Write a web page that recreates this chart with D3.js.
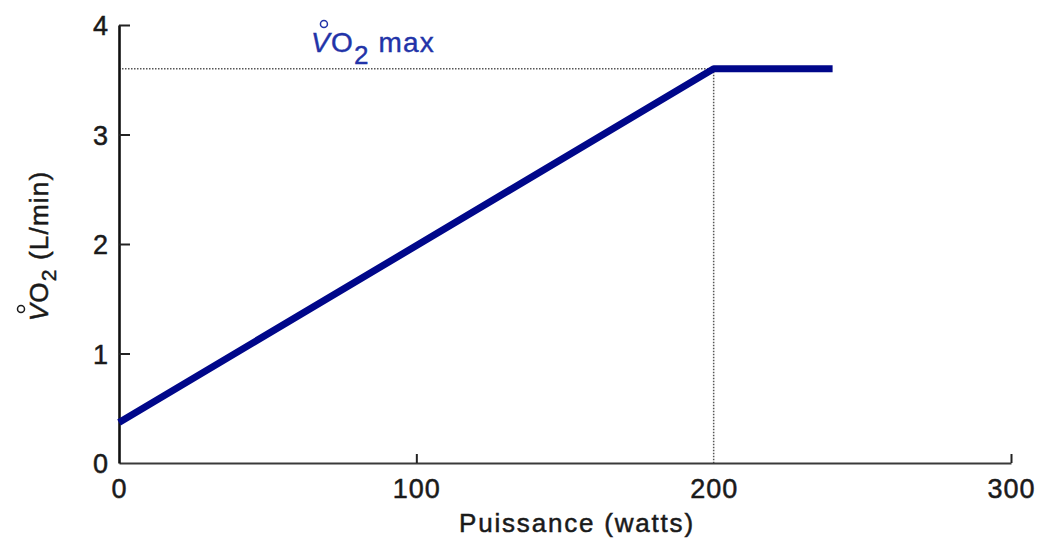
<!DOCTYPE html>
<html>
<head>
<meta charset="utf-8">
<script src="https://cdn.jsdelivr.net/npm/d3@7"></script>
<style>
  body { margin: 0; background: #fff; }
  text { font-family: "Liberation Sans", Arial, sans-serif; }
</style>
</head>
<body>
<script>
// data
const puissance = [0, 200, 240];
const vo2 = [0.37, 3.6, 3.6];
const vo2max = 3.6;
const puissanceMax = 200;
const xTicks = [0, 100, 200, 300];
const yTicks = [0, 1, 2, 3, 4];

const width = 1048, height = 540;
const svg = d3.select('body').append('svg')
    .attr('width', width)
    .attr('height', height);

const x = d3.scaleLinear().domain([0, 300]).range([119, 1011]);
const y = d3.scaleLinear().domain([0, 4]).range([463, 25]);

const textColor = '#1a1a1a';
const blue = '#2233a8';

// dotted guides
svg.append('line')
    .attr('x1', x(0)).attr('x2', x(puissanceMax))
    .attr('y1', y(vo2max)).attr('y2', y(vo2max))
    .style('stroke', '#555').style('stroke-width', 1.5)
    .style('stroke-dasharray', '1.5,1.5');
svg.append('line')
    .attr('x1', x(puissanceMax)).attr('x2', x(puissanceMax))
    .attr('y1', y(vo2max)).attr('y2', y(0))
    .style('stroke', '#555').style('stroke-width', 1.5)
    .style('stroke-dasharray', '1.5,1.5');

// axes
const xAxis = d3.axisBottom(x).tickValues(xTicks).tickFormat(d3.format('d'))
    .tickSizeInner(-9).tickSizeOuter(0);
const yAxis = d3.axisLeft(y).tickValues(yTicks).tickFormat(d3.format('d'))
    .tickSizeInner(-11).tickSizeOuter(0);

const gx = svg.append('g').attr('transform', `translate(0,${y(0)})`).call(xAxis);
const gy = svg.append('g').attr('transform', `translate(${x(0)},0)`).call(yAxis);

[gx, gy].forEach(g => {
    g.selectAll('.tick line').style('stroke', '#222').style('stroke-width', 2);
    g.selectAll('.tick text')
        .style('font-size', '27px')
        .style('letter-spacing', '1px')
        .style('fill', textColor)
        .style('stroke', textColor)
        .style('stroke-width', 0.5);
});
gx.select('.domain').style('stroke', '#3a3a3a').style('stroke-width', 2.2);
gy.select('.domain').style('stroke', '#111').style('stroke-width', 2.6);
gx.selectAll('.tick text').attr('y', 35).attr('dy', 0);
gy.selectAll('.tick text').attr('x', -10).attr('dy', '0.36em');
gy.selectAll('.tick').filter(d => d === 0).select('line').remove();
gx.selectAll('.tick').filter(d => d === 0 || d === 200).select('line').remove();

// data line
const line = d3.line().x((d, i) => x(puissance[i])).y(d => y(d));
svg.append('path')
    .datum(vo2)
    .attr('d', line)
    .style('fill', 'none')
    .style('stroke', '#00078a')
    .style('stroke-width', 7)
    .style('stroke-linejoin', 'round');

// little ring above the V (V point)
function addRing(parent, textNode, color) {
    const r = textNode.getExtentOfChar(0);
    parent.append('circle')
        .attr('cx', r.x + r.width / 2 + 3)
        .attr('cy', r.y - 3)
        .attr('r', 3.5)
        .style('fill', 'none')
        .style('stroke', color)
        .style('stroke-width', 1.5);
}

// annotation VO2 max
const ann = svg.append('text')
    .attr('x', 311).attr('y', 52)
    .style('font-size', '28px')
    .style('letter-spacing', '1.2px')
    .style('fill', blue)
    .style('stroke', blue)
    .style('stroke-width', 0.4);
ann.append('tspan').text('V').style('font-style', 'italic');
ann.append('tspan').text('O');
ann.append('tspan').text('2').attr('dy', 12).style('font-size', '26px');
ann.append('tspan').text(' max').attr('dy', -12);
addRing(svg, ann.node(), blue);

// x axis title
svg.append('text')
    .attr('x', 577).attr('y', 532)
    .attr('text-anchor', 'middle')
    .style('font-size', '26px')
    .style('letter-spacing', '1.8px')
    .style('fill', textColor)
    .style('stroke', textColor)
    .style('stroke-width', 0.5)
    .text('Puissance (watts)');

// y axis title
const yt = svg.append('g').attr('transform', 'translate(48,246) rotate(-90)');
const ytext = yt.append('text')
    .attr('text-anchor', 'middle')
    .style('font-size', '26px')
    .style('letter-spacing', '1.2px')
    .style('fill', textColor)
    .style('stroke', textColor)
    .style('stroke-width', 0.5);
ytext.append('tspan').text('V').style('font-style', 'italic');
ytext.append('tspan').text('O');
ytext.append('tspan').text('2').attr('dy', 8).style('font-size', '21px');
ytext.append('tspan').text(' (L/min)').attr('dy', -8);
addRing(yt, ytext.node(), textColor);
</script>
</body>
</html>
